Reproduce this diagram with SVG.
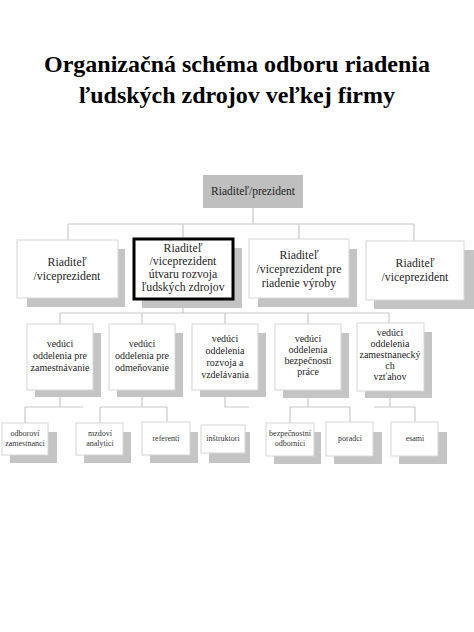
<svg xmlns="http://www.w3.org/2000/svg" width="474" height="632" viewBox="0 0 474 632">
<style>
.title{font-family:"Liberation Serif","Times New Roman",serif;font-weight:bold;font-size:24px;fill:#000;text-anchor:middle}
.t{font-family:"Liberation Serif","Times New Roman",serif;fill:#1e1e1e;text-anchor:middle}
.l1{font-size:11.5px}
.l2{font-size:11.8px}
.l3{font-size:10px}
.l4{font-size:8px;fill:#333}
.box{fill:#fff;stroke:#d6d6d6;stroke-width:1}
.bold{fill:#fff;stroke:#000;stroke-width:3}
.sh{fill:#c4c4c4}
.top{fill:#bfbfbf}
.c{fill:none;stroke:#c8c8c8;stroke-width:1.2}
</style>
<rect width="474" height="632" fill="#fff"/>
<g id="title">
<text class="title" x="237" y="72">Organizačná schéma odboru riadenia</text>
<text class="title" x="237" y="103">ľudských zdrojov veľkej firmy</text>
</g>
<g id="connectors">
<path class="c" d="M253 208V224M68 224H414M68 224V240M183 224V238M299 224V239M414 224V241"/>
<path class="c" d="M183 300V313M60 313H389M60 313V324M142 313V324M225 313V324M308 313V324M389 313V323"/>
<path class="c" d="M60 390V407M25 407H83M25 407V423"/>
<path class="c" d="M142 390V407M100 407H167M100 407V423M167 407V422"/>
<path class="c" d="M225 390V407H249"/>
<path class="c" d="M308 398V407M290 407H350M290 407V423M350 407V422"/>
<path class="c" d="M390 398V407M374 407H415M415 407V422"/>
</g>
<g id="n-top">
<rect class="top" x="203" y="175" width="100" height="33"/>
<text class="t l1" x="253" y="195">Riaditeľ/prezident</text>
</g>
<g id="n-vp1">
<rect class="sh" x="27" y="249" width="98" height="58"/>
<rect class="box" x="17" y="240" width="101" height="58"/>
<text class="t l2" x="67" y="266">Riaditeľ</text>
<text class="t l2" x="67" y="280">/viceprezident</text>
</g>
<g id="n-vp2">
<rect class="sh" x="142" y="248" width="100" height="60"/>
<rect class="bold" x="134" y="239" width="99" height="60"/>
<text class="t l2" x="183" y="252">Riaditeľ</text>
<text class="t l2" x="183" y="265">/viceprezident</text>
<text class="t l2" x="183" y="278">útvaru rozvoja</text>
<text class="t l2" x="183" y="291">ľudských zdrojov</text>
</g>
<g id="n-vp3">
<rect class="sh" x="258" y="249" width="99" height="58"/>
<rect class="box" x="249" y="239" width="100" height="59"/>
<text class="t l2" x="299" y="259">Riaditeľ</text>
<text class="t l2" x="299" y="273">/viceprezident pre</text>
<text class="t l2" x="299" y="287">riadenie výroby</text>
</g>
<g id="n-vp4">
<rect class="sh" x="374" y="250" width="100" height="59"/>
<rect class="box" x="366" y="241" width="98" height="59"/>
<text class="t l2" x="415" y="267">Riaditeľ</text>
<text class="t l2" x="415" y="281">/viceprezident</text>
</g>
<g id="n-d1">
<rect class="sh" x="35" y="333" width="66" height="64"/>
<rect class="box" x="27" y="324" width="66" height="66"/>
<text class="t l3" x="60" y="347">vedúci</text>
<text class="t l3" x="60" y="359">oddelenia pre</text>
<text class="t l3" x="60" y="371">zamestnávanie</text>
</g>
<g id="n-d2">
<rect class="sh" x="117" y="333" width="66" height="64"/>
<rect class="box" x="109" y="324" width="66" height="66"/>
<text class="t l3" x="142" y="347">vedúci</text>
<text class="t l3" x="142" y="359">oddelenia pre</text>
<text class="t l3" x="142" y="371">odmeňovanie</text>
</g>
<g id="n-d3">
<rect class="sh" x="200" y="333" width="66" height="64"/>
<rect class="box" x="192" y="324" width="66" height="66"/>
<text class="t l3" x="225" y="342">vedúci</text>
<text class="t l3" x="225" y="354">oddelenia</text>
<text class="t l3" x="225" y="366">rozvoja a</text>
<text class="t l3" x="225" y="378">vzdelávania</text>
</g>
<g id="n-d4">
<rect class="sh" x="283" y="333" width="66" height="65"/>
<rect class="box" x="275" y="324" width="66" height="66"/>
<text class="t l3" x="308" y="342">vedúci</text>
<text class="t l3" x="308" y="353">oddelenia</text>
<text class="t l3" x="308" y="364">bezpečnosti</text>
<text class="t l3" x="308" y="375">práce</text>
</g>
<g id="n-d5">
<rect class="sh" x="365" y="332" width="67" height="66"/>
<rect class="box" x="357" y="323" width="67" height="68"/>
<text class="t l3" x="390" y="336">vedúci</text>
<text class="t l3" x="390" y="347">oddelenia</text>
<text class="t l3" x="390" y="358">zamestnanecký</text>
<text class="t l3" x="390" y="369">ch</text>
<text class="t l3" x="390" y="380">vzťahov</text>
</g>
<g id="n-e1">
<rect class="sh" x="10" y="432" width="47" height="31"/>
<rect class="box" x="2" y="423" width="46" height="32"/>
<text class="t l4" x="25" y="436">odboroví</text>
<text class="t l4" x="25" y="446">zamestnanci</text>
</g>
<g id="n-e2">
<rect class="sh" x="84" y="432" width="47" height="31"/>
<rect class="box" x="76" y="423" width="47" height="32"/>
<text class="t l4" x="100" y="436">mzdoví</text>
<text class="t l4" x="100" y="446">analytici</text>
</g>
<g id="n-e3">
<rect class="sh" x="150" y="432" width="48" height="31"/>
<rect class="box" x="142" y="422" width="48" height="33"/>
<text class="t l4" x="166" y="441">referenti</text>
</g>
<g id="n-e4">
<rect class="sh" x="209" y="432" width="41" height="31"/>
<rect class="box" x="201" y="425" width="44" height="28"/>
<text class="t l4" x="223" y="441">inštruktori</text>
</g>
<g id="n-e5">
<rect class="sh" x="274" y="432" width="47" height="32"/>
<rect class="box" x="266" y="423" width="48" height="33"/>
<text class="t l4" x="290" y="436">bezpečnostní</text>
<text class="t l4" x="290" y="446">odborníci</text>
</g>
<g id="n-e6">
<rect class="sh" x="334" y="432" width="48" height="32"/>
<rect class="box" x="326" y="422" width="47" height="34"/>
<text class="t l4" x="350" y="441">poradci</text>
</g>
<g id="n-e7">
<rect class="sh" x="399" y="432" width="48" height="32"/>
<rect class="box" x="391" y="422" width="47" height="34"/>
<text class="t l4" x="415" y="441">esami</text>
</g>
</svg>
